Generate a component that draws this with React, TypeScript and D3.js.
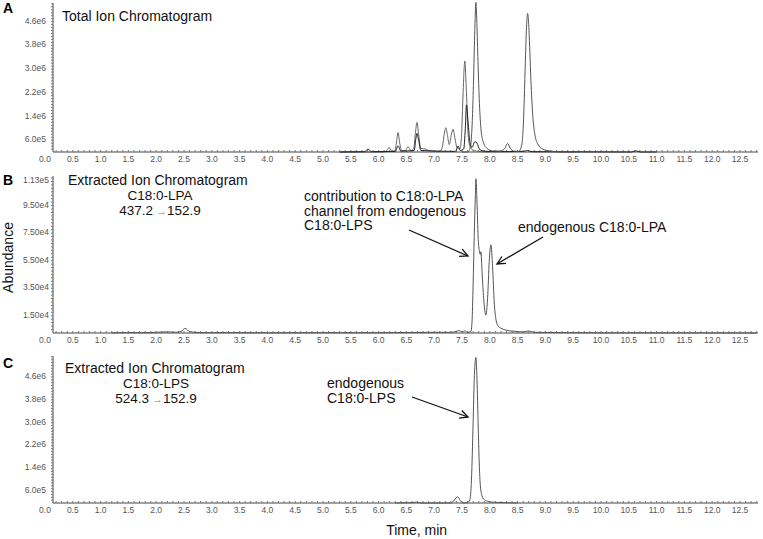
import * as d3 from "d3";

// x-axis labels (minutes)
const TIME_LABELS = [
  "0.0", "0.5", "1.0", "1.5", "2.0", "2.5", "3.0", "3.5", "4.0", "4.5", "5.0", "5.5", "6.0",
  "6.5", "7.0", "7.5", "8.0", "8.5", "9.0", "9.5", "10.0", "10.5", "11.0", "11.5", "12.0", "12.5"
];

// y ticks, panels A and C in 1e6 counts, panel B in 1e3 counts
const TIC_TICKS = [0.6, 1.4, 2.2, 3.0, 3.8, 4.6];
const TIC_LABELS = ["6.0e5", "1.4e6", "2.2e6", "3.0e6", "3.8e6", "4.6e6"];
const LPA_TICKS = [15, 35, 55, 75, 95, 113];
const LPA_LABELS = ["1.50e4", "3.50e4", "5.50e4", "7.50e4", "9.50e4", "1.13e5"];
const LPS_TICKS = [0.6, 1.4, 2.2, 3.0, 3.8, 4.6];
const LPS_LABELS = ["6.0e5", "1.4e6", "2.2e6", "3.0e6", "3.8e6", "4.6e6"];

// [time (min), abundance]
const ticTrace1 = [
  [7.5, 0], [7.6, 0], [7.65, 0.15], [7.67, 0.5], [7.69, 1.3], [7.71, 2.6], [7.73, 4.1], [7.75, 5.05],
  [7.77, 4.2], [7.79, 2.9], [7.81, 1.8], [7.84, 0.8], [7.88, 0.35], [7.95, 0.12], [8.05, 0.04],
  [8.2, 0.03], [8.27, 0.12], [8.32, 0.29], [8.37, 0.12], [8.44, 0.03], [8.52, 0.02], [8.57, 0.2],
  [8.6, 0.8], [8.62, 1.8], [8.64, 3.1], [8.66, 4.2], [8.68, 4.68], [8.7, 4.3], [8.72, 3.4],
  [8.74, 2.4], [8.77, 1.3], [8.81, 0.6], [8.86, 0.28], [8.95, 0.1], [9.1, 0.03], [9.3, 0], [9.6, 0]
];
const ticTrace2 = [
  [5.3, 0], [6.1, 0], [6.15, 0.05], [6.19, 0.16], [6.23, 0.05], [6.29, 0.03], [6.32, 0.3],
  [6.35, 0.66], [6.38, 0.3], [6.42, 0.04], [6.48, 0.05], [6.53, 0.18], [6.58, 0.05], [6.63, 0.1],
  [6.66, 0.6], [6.69, 1.0], [6.72, 0.6], [6.76, 0.12], [6.85, 0.1], [6.9, 0.04], [7.1, 0.02],
  [7.15, 0.2], [7.18, 0.6], [7.21, 0.82], [7.24, 0.55], [7.27, 0.25], [7.31, 0.6], [7.34, 0.77],
  [7.37, 0.5], [7.41, 0.15], [7.46, 0.1], [7.49, 0.5], [7.52, 2.0], [7.55, 3.07], [7.58, 2.0],
  [7.61, 0.6], [7.65, 0.15], [7.72, 0.05], [7.8, 0.02], [8.0, 0]
];
const ticTrace3 = [
  [5.3, 0], [5.75, 0.01], [5.81, 0.1], [5.87, 0.01], [6.3, 0.02], [6.35, 0.21], [6.4, 0.03],
  [6.64, 0.05], [6.67, 0.45], [6.69, 0.63], [6.72, 0.4], [6.76, 0.05], [7.38, 0.02], [7.43, 0.2],
  [7.47, 0.05], [7.53, 0.1], [7.56, 0.8], [7.58, 1.59], [7.61, 1.0], [7.64, 0.35], [7.68, 0.15],
  [7.73, 0.35], [7.77, 0.3], [7.82, 0.08], [7.9, 0.03], [8.1, 0.01], [8.6, 0.02], [8.68, 0.05],
  [8.76, 0.01], [10.55, 0], [10.63, 0.04], [10.71, 0], [11.0, 0]
];
const lpaTrace = [
  [1.2, 0], [1.5, 0.3], [1.8, 0.2], [2.0, 0.5], [2.2, 0.8], [2.35, 0.5], [2.45, 1.2], [2.52, 3.4],
  [2.6, 1.0], [2.7, 0.5], [2.9, 0.2], [3.2, 0.3], [4.0, 0.1], [5.0, 0.2], [6.0, 0.2], [6.6, 0.4],
  [7.0, 0.5], [7.3, 0.5], [7.4, 1.2], [7.45, 1.8], [7.5, 0.8], [7.55, 1.6], [7.6, 0.5], [7.66, 1],
  [7.68, 8], [7.7, 35], [7.72, 70], [7.74, 100], [7.75, 112], [7.77, 95], [7.79, 70], [7.81, 60],
  [7.83, 57], [7.84, 59], [7.86, 45], [7.89, 25], [7.93, 13], [7.96, 25], [7.99, 52], [8.02, 64],
  [8.05, 48], [8.08, 22], [8.11, 10], [8.15, 5], [8.2, 3.5], [8.3, 2], [8.45, 1.2], [8.6, 0.8],
  [8.7, 1.5], [8.8, 0.5], [9.0, 0.4], [9.5, 0.2], [10.0, 0.1], [11.0, 0.1], [12.8, 0]
];
const lpsTrace = [
  [6.3, 0], [6.6, 0.01], [6.68, 0.03], [6.75, 0], [7.3, 0], [7.36, 0.1], [7.42, 0.22], [7.47, 0.08],
  [7.52, 0], [7.6, 0.01], [7.64, 0.1], [7.67, 0.8], [7.7, 2.8], [7.72, 4.3], [7.75, 5.08],
  [7.77, 4.3], [7.79, 2.8], [7.81, 1.4], [7.83, 0.6], [7.86, 0.25], [7.9, 0.12], [7.98, 0.05],
  [8.1, 0.02], [8.3, 0.01], [8.5, 0]
];

const FONT = "'Liberation Sans', Arial, sans-serif";
const AXIS_LEFT = 53;
const AXIS_RIGHT = 758;

const x = d3.scaleLinear().domain([0, 12.5]).range([45, 740]);
const line = d3.line().x((d) => x(d[0])).y((d) => d[1]).curve(d3.curveMonotoneX);

function Panel({ top, bottom, yMax, ticks, labels, labelRight, labelOffset, minorStep, traces }) {
  const y = d3.scaleLinear().domain([0, yMax]).range([bottom, top]);
  const minorY = d3.range(minorStep, yMax, minorStep);
  const minorX = d3.range(2, 129).map((i) => i / 10);
  return (
    <g>
      {/* y axis + dotted minor ticks */}
      <line x1={AXIS_LEFT} x2={AXIS_LEFT} y1={top} y2={bottom} stroke="#444" />
      {minorY.map((v, i) => (
        <line key={i} x1={AXIS_LEFT - 2} x2={AXIS_LEFT} y1={y(v)} y2={y(v)} stroke="#777" />
      ))}
      {ticks.map((v, i) => (
        <text key={i} x={labelRight} y={y(v) + labelOffset + 3} textAnchor="end"
          fontSize={8.5} fill="#555" fontFamily={FONT}>{labels[i]}</text>
      ))}

      {/* x axis */}
      <line x1={AXIS_LEFT} x2={AXIS_RIGHT} y1={bottom} y2={bottom} stroke="#444" />
      {minorX.map((t, i) => (
        <line key={i} x1={x(t)} x2={x(t)} y1={bottom} y2={bottom - 2} stroke="#777" />
      ))}
      {TIME_LABELS.map((s) => (
        <text key={s} x={x(+s)} y={bottom + 10} textAnchor="middle"
          fontSize={8.5} fill="#555" fontFamily={FONT}>{s}</text>
      ))}

      {/* traces */}
      {traces.map((tr, i) => (
        <path key={i} d={line(tr.data.map((d) => [d[0], y(d[1])]))}
          fill="none" stroke={tr.color} strokeWidth={1} />
      ))}
    </g>
  );
}

function Arrow({ x1, y1, x2, y2 }) {
  return (
    <line x1={x1} y1={y1} x2={x2} y2={y2} stroke="#111" strokeWidth={1.3} markerEnd="url(#head)" />
  );
}

export default function App() {
  const txt = { fontFamily: FONT, fontSize: 14, fill: "#111" };
  const sub = { fontFamily: FONT, fontSize: 13.5, fill: "#111" };
  return (
    <svg width={763} height={539} style={{ position: "absolute", left: 0, top: 0, background: "#fff" }}>
      <defs>
        <marker id="head" markerUnits="userSpaceOnUse" markerWidth={12} markerHeight={12}
          refX={9} refY={5} orient="auto">
          <path d="M1,1 L9,5 L1,9" fill="none" stroke="#111" strokeWidth={1.3} />
        </marker>
      </defs>

      {/* A: total ion chromatogram */}
      <Panel top={3} bottom={152} yMax={5.03} ticks={TIC_TICKS} labels={TIC_LABELS}
        labelRight={46} labelOffset={5} minorStep={0.1}
        traces={[
          { data: ticTrace2, color: "#666" },
          { data: ticTrace3, color: "#222" },
          { data: ticTrace1, color: "#555" },
        ]} />
      <text x={3} y={13} fontFamily={FONT} fontWeight="bold" fontSize={14}>A</text>
      <text x={62} y={20.5} {...txt}>Total Ion Chromatogram</text>

      {/* B: C18:0-LPA channel */}
      <Panel top={176} bottom={333} yMax={114} ticks={LPA_TICKS} labels={LPA_LABELS}
        labelRight={49} labelOffset={2.7} minorStep={2.5}
        traces={[{ data: lpaTrace, color: "#555" }]} />
      <text x={3} y={184.5} fontFamily={FONT} fontWeight="bold" fontSize={14}>B</text>
      <text x={68} y={184.5} {...txt}>Extracted Ion Chromatogram</text>
      <text x={160} y={199.5} textAnchor="middle" {...sub}>C18:0-LPA</text>
      <text x={160} y={215} textAnchor="middle" {...sub}>
        437.2<tspan fill="#888" fontSize={11}>{" \u2192"}</tspan>152.9
      </text>
      <text transform="translate(13,257.5) rotate(-90)" textAnchor="middle" {...txt}>Abundance</text>
      <text x={304} y={201} {...txt}>contribution to C18:0-LPA</text>
      <text x={304} y={215.5} {...txt}>channel from endogenous</text>
      <text x={304} y={230} {...txt}>C18:0-LPS</text>
      <text x={518} y={232} {...txt}>endogenous C18:0-LPA</text>
      <Arrow x1={409} y1={230} x2={468} y2={256} />
      <Arrow x1={543} y1={237} x2={497} y2={264} />

      {/* C: C18:0-LPS channel */}
      <Panel top={356} bottom={503} yMax={5.13} ticks={LPS_TICKS} labels={LPS_LABELS}
        labelRight={46} labelOffset={4.5} minorStep={0.1}
        traces={[{ data: lpsTrace, color: "#555" }]} />
      <text x={3} y={368} fontFamily={FONT} fontWeight="bold" fontSize={14}>C</text>
      <text x={65} y={372.5} {...txt}>Extracted Ion Chromatogram</text>
      <text x={156} y={388} textAnchor="middle" {...sub}>C18:0-LPS</text>
      <text x={156} y={403} textAnchor="middle" {...sub}>
        524.3<tspan fill="#888" fontSize={11}>{" \u2192"}</tspan>152.9
      </text>
      <text x={327} y={388} {...txt}>endogenous</text>
      <text x={327} y={403} {...txt}>C18:0-LPS</text>
      <Arrow x1={412} y1={397} x2={468} y2={417} />

      <text x={416.7} y={535} textAnchor="middle" {...txt}>Time, min</text>
    </svg>
  );
}
